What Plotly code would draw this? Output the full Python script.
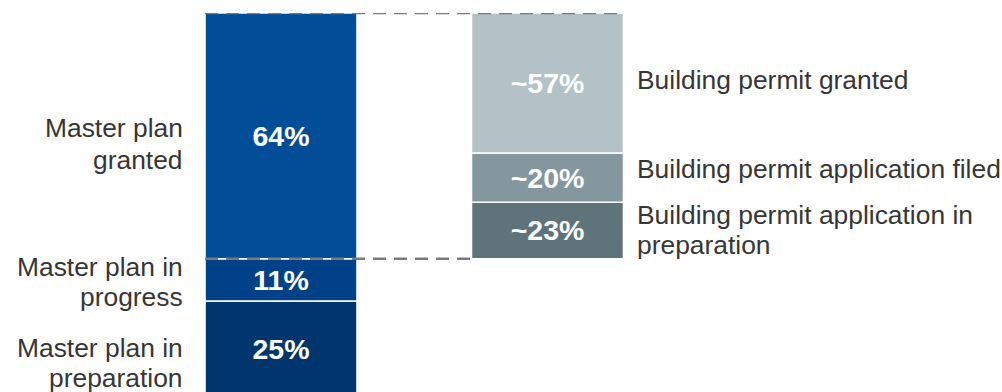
import plotly.graph_objects as go

# ---- data ----
left_labels = ["Master plan in\npreparation", "Master plan in\nprogress", "Master plan\ngranted"]
left_values = [25, 11, 64]
left_text = ["25%", "11%", "64%"]

right_labels = ["Building permit application in\npreparation", "Building permit application filed", "Building permit granted"]
right_shares = [23, 20, 57]
right_text = ["~23%", "~20%", "~57%"]

# ---- styles ----
left_colors = ["#00356E", "#004187", "#024D97"]
right_colors = ["#5F737B", "#84979E", "#B3C2C7"]
left_label_offsets = [14, 2, 8]      # px down from segment centre
right_label_offsets = [0, -9, -3]
left_pitches = [30.5, 29.5, 31.5]
text_color = "#363636"
font_family = "Liberation Sans, Arial, sans-serif"
bar_x = [0, 1]
bar_w = 0.57
px_per_unit = 266.5
label_size = 26.4
value_size = 28.5

fig = go.Figure()

annotations = []

def add_label(lines_text, x, anchor, xshift, ycenter, offset, pitch):
    lines = lines_text.split("\n")
    n = len(lines)
    for i, ln in enumerate(lines):
        shift = -offset + pitch * (n - 1) / 2 - i * pitch
        annotations.append(dict(
            x=x, y=ycenter, xref="x", yref="y", text=ln, showarrow=False,
            xanchor=anchor, yanchor="middle", xshift=xshift, yshift=shift,
            align="right" if anchor == "right" else "left",
            font=dict(family=font_family, size=label_size, color=text_color)))

# left bar
base = 0
for val, txt, col, lab, off, p in zip(left_values, left_text, left_colors, left_labels,
                                      left_label_offsets, left_pitches):
    fig.add_trace(go.Bar(
        x=[bar_x[0]], y=[val], base=[base], width=bar_w,
        marker=dict(color=col, line=dict(color="white", width=1.5)),
        text=[txt], textposition="inside", insidetextanchor="middle", textangle=0,
        textfont=dict(family=font_family, size=value_size, color="white", weight="bold"),
        hoverinfo="skip"))
    add_label(lab, bar_x[0] - bar_w / 2, "right", -20, base + val / 2, off, p)
    base += val

# right bar: breakdown of the granted master plans
granted_total = left_values[2]
right_base0 = left_values[0] + left_values[1]
base = right_base0
for share, txt, col, lab, off in zip(right_shares, right_text, right_colors, right_labels, right_label_offsets):
    val = granted_total * share / 100
    fig.add_trace(go.Bar(
        x=[bar_x[1]], y=[val], base=[base], width=bar_w,
        marker=dict(color=col, line=dict(color="white", width=1.5)),
        text=[txt], textposition="inside", insidetextanchor="middle", textangle=0,
        textfont=dict(family=font_family, size=value_size, color="white", weight="bold"),
        hoverinfo="skip"))
    add_label(lab, bar_x[1] + bar_w / 2, "left", 12, base + val / 2, off, 30)
    base += val

top = sum(left_values)
dash_style = dict(color="#7A7A7A", width=2.5, dash="13px,8px")
shapes = [
    dict(type="line", xref="x", yref="y", x0=bar_x[0] - bar_w / 2, x1=bar_x[1] + bar_w / 2,
         y0=top, y1=top, line=dash_style, layer="above"),
    dict(type="line", xref="x", yref="y", x0=bar_x[0] - bar_w / 2, x1=bar_x[1] - bar_w / 2,
         y0=right_base0, y1=right_base0, line=dash_style, layer="above"),
]

W, H = 1002, 392
x0 = -281 / px_per_unit
x1 = x0 + W / px_per_unit

fig.update_layout(
    width=W, height=H,
    margin=dict(l=0, r=0, t=13, b=0, pad=0),
    paper_bgcolor="white", plot_bgcolor="white",
    barmode="overlay", showlegend=False,
    xaxis=dict(visible=False, range=[x0, x1], fixedrange=True),
    yaxis=dict(visible=False, range=[1.3, 100], fixedrange=True),
    annotations=annotations, shapes=shapes,
    uniformtext=dict(mode=False),
)

fig.write_html("out.html", config={"displayModeBar": False})
